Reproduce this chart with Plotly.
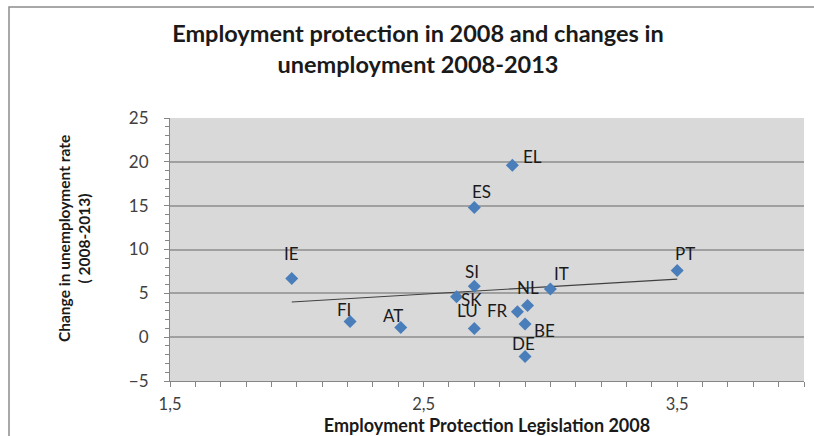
import numpy as np
import plotly.graph_objects as go

# ---- data ----
countries = ["EL", "ES", "IE", "SI", "SK", "IT", "PT", "NL", "FR", "FI", "AT", "LU", "BE", "DE"]
epl_2008 = [2.85, 2.70, 1.98, 2.70, 2.63, 3.00, 3.50, 2.91, 2.87, 2.21, 2.41, 2.70, 2.90, 2.90]
unemp_change = [19.6, 14.8, 6.7, 5.8, 4.6, 5.5, 7.6, 3.6, 2.9, 1.8, 1.1, 1.0, 1.5, -2.2]

x_tickvals = [1.5, 2.5, 3.5]
x_ticktext = ["1,5", "2,5", "3,5"]
y_tickvals = [-5, 0, 5, 10, 15, 20, 25]

title_text = "Employment protection in 2008 and changes in<br>unemployment 2008-2013"
x_title = "Employment Protection Legislation 2008"
y_title = "Change in unemployment rate<br>( 2008-2013)"

# label offsets in pixels (styling, not data): (dx, dy up)
label_offsets = {
    "EL": (20, 9), "ES": (7, 16), "IE": (0, 25), "SI": (-2, 15), "SK": (15, -3),
    "IT": (11, 15), "PT": (8, 17), "NL": (0, 18), "FR": (-20, 1), "FI": (-6, 12),
    "AT": (-8, 12), "LU": (-7, 18), "BE": (19, -6), "DE": (-2, 13),
}

FONT = "Lato"
fig = go.Figure()

# linear trendline
xa = np.array(epl_2008)
ya = np.array(unemp_change)
slope, intercept = np.polyfit(xa, ya, 1)
xl = np.array([xa.min(), xa.max()])
fig.add_trace(go.Scatter(
    x=xl, y=slope * xl + intercept, mode="lines",
    line=dict(color="#404040", width=1.2), hoverinfo="skip", showlegend=False))

fig.add_trace(go.Scatter(
    x=epl_2008, y=unemp_change, mode="markers", text=countries,
    marker=dict(symbol="diamond", size=10, color="#4A7EBB", line=dict(width=0)),
    showlegend=False))

for c, xv, yv in zip(countries, epl_2008, unemp_change):
    dx, dy = label_offsets[c]
    fig.add_annotation(x=xv, y=yv, text=c, showarrow=False, xshift=dx, yshift=dy,
                       font=dict(family=FONT, size=17, color="#1a1a1a"))

# y-axis title (placed as a rotated annotation)
fig.add_annotation(text=y_title, xref="paper", yref="paper",
                   x=(74 - 170) / 634, y=(381 - 239) / 263, xanchor="center", yanchor="middle",
                   textangle=-90, showarrow=False,
                   font=dict(family=FONT, size=15.5, color="#1a1a1a", weight="bold"))

# chart-area border (Excel chart frame)
fig.add_shape(type="rect", xref="paper", yref="paper",
              x0=(9 - 170) / 634, x1=(900 - 170) / 634,
              y0=-(500 - 381) / 263, y1=1 + (118 - 7) / 263,
              line=dict(color="#8c8c8c", width=1.5), layer="below")

fig.update_layout(
    width=814, height=436,
    margin=dict(l=170, r=10, t=118, b=55),
    paper_bgcolor="white", plot_bgcolor="#d9d9d9",
    title=dict(text=title_text, x=418 / 814, xanchor="center", yref="container",
               y=1 - 42 / 436, yanchor="middle",
               font=dict(family=FONT, size=23.5, color="#1a1a1a", weight="bold")),
    font=dict(family=FONT),
)

fig.update_xaxes(
    range=[1.5, 4.0], tickvals=x_tickvals, ticktext=x_ticktext,
    showgrid=False, zeroline=False, showline=True, linecolor="#868686", linewidth=1,
    ticks="outside", ticklen=5, tickcolor="#868686",
    minor=dict(dtick=0.1, tick0=1.5, ticks="outside", ticklen=5, tickcolor="#868686", showgrid=False),
    tickfont=dict(family=FONT, size=16.5, color="#404040"),
    ticklabelstandoff=3,
    title=dict(text=x_title, font=dict(family=FONT, size=18, color="#1a1a1a", weight="bold"), standoff=5),
    automargin=False,
)
fig.update_yaxes(
    range=[-5, 25], tickvals=y_tickvals,
    showgrid=True, gridcolor="#a0a0a0", gridwidth=1.5, zeroline=False,
    showline=True, linecolor="#868686", linewidth=1,
    ticks="outside", ticklen=5, tickcolor="#868686",
    minor=dict(dtick=1, tick0=0, ticks="outside", ticklen=4, tickcolor="#868686", showgrid=False),
    tickfont=dict(family=FONT, size=17, color="#404040"),
    ticklabelstandoff=12,
    automargin=False,
)

fig.write_html("out.html")
